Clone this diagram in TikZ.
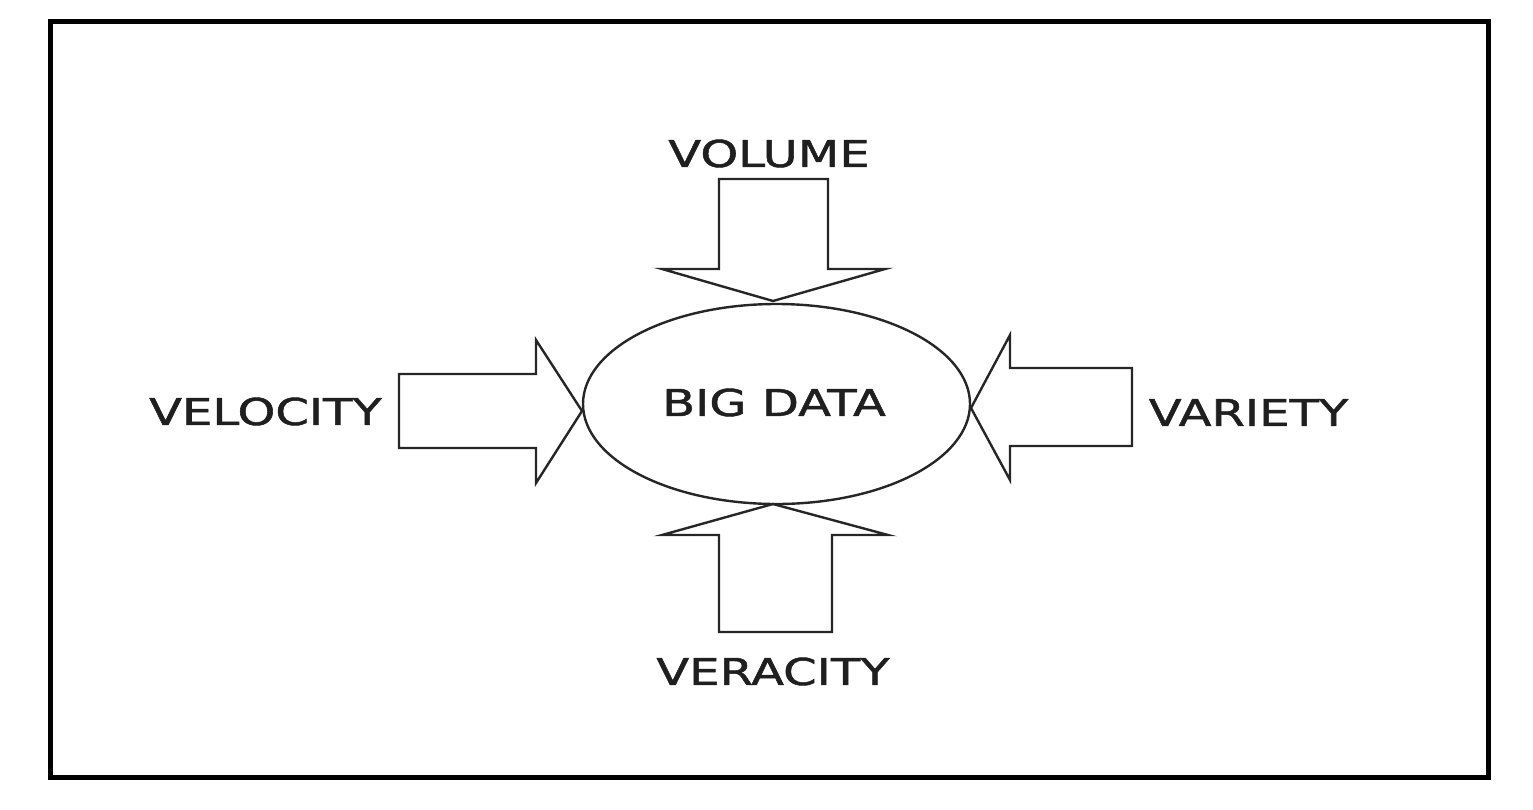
\documentclass[tikz,border=0pt]{standalone}
\usepackage{fontspec}
\setmainfont{DejaVu Sans}
\newfontfamily\lblfont{DejaVu Sans}[FakeBold=1.2]
\usetikzlibrary{shapes.geometric}
\begin{document}
\begin{tikzpicture}[x=1pt,y=-1pt,
  lbl/.style={inner sep=0pt, text=black!88, xscale=1.3, font=\lblfont\fontsize{37}{44}\selectfont},
  fatarrow/.style={draw=black!85, line width=2.4pt, line join=miter},
  frame/.style={draw=black, line width=5pt}]
\useasboundingbox (0,0) rectangle (1533,809);
\draw[frame] (50.5,21.5) rectangle (1488.5,777.5);
% central ellipse
\node[ellipse, draw=black!85, line width=2.4pt, inner sep=0pt, minimum width=387pt, minimum height=200pt] (c) at (776.5,404) {};
\node[lbl] (big) at (774,402.5) {BIG DATA};
% top arrow (VOLUME)
\draw[fatarrow] (719,179) -- (828,179) -- (828,269) -- (885,269) -- (773,301) -- (662,269) -- (719,269) -- cycle;
\node[lbl] (vol) at (769,153.5) {VOLUME};
% bottom arrow (VERACITY)
\draw[fatarrow] (719,632) -- (832,632) -- (832,535) -- (888,535) -- (773,504) -- (662,535) -- (719,535) -- cycle;
\node[lbl] (ver) at (773,671.5) {VERACITY};
% left arrow (VELOCITY)
\draw[fatarrow] (399,374) -- (536,374) -- (536,340) -- (582,411) -- (536,483) -- (536,448) -- (399,448) -- cycle;
\node[lbl] (vel) at (265.5,411.5) {VELOCITY};
% right arrow (VARIETY)
\draw[fatarrow] (1132,368) -- (1010,368) -- (1010,335) -- (971,408) -- (1010,480) -- (1010,446) -- (1132,446) -- cycle;
\node[lbl] (var) at (1248.5,412.5) {VARIETY};
\end{tikzpicture}
\end{document}
